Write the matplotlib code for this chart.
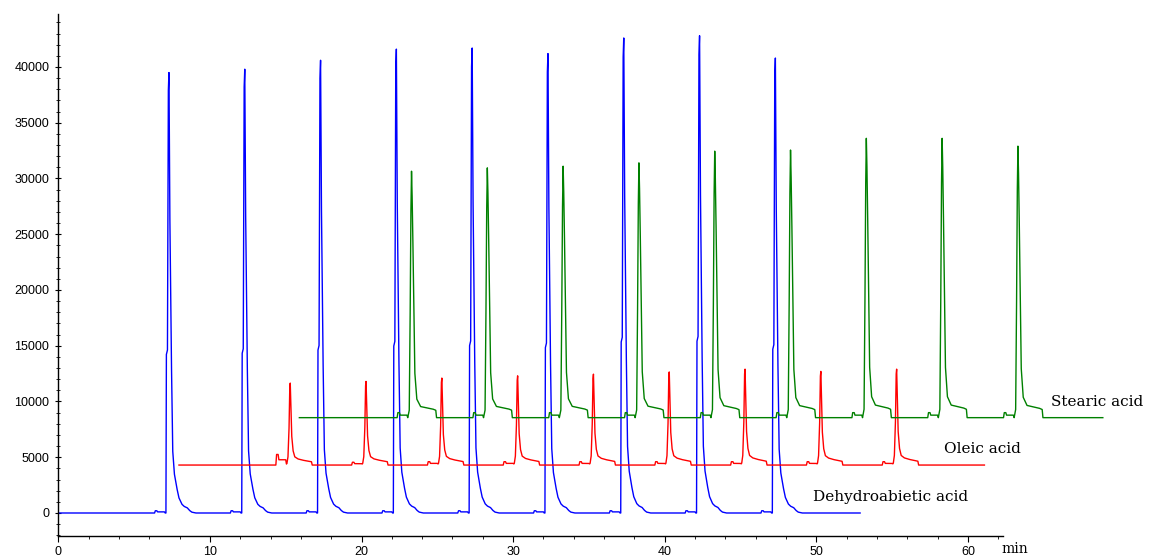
import numpy as np
import matplotlib
matplotlib.use("Agg")
import matplotlib.pyplot as plt
from matplotlib.ticker import MultipleLocator

# retention times (min), apex heights and small pre-peak bumps
blue_times = [7.3, 12.3, 17.3, 22.3, 27.3, 32.3, 37.3, 42.3, 47.3]
blue_apex = [39500, 39800, 40600, 41600, 41700, 41200, 42600, 42800, 40800]
blue_bumps = [200, 200, 200, 200, 200, 200, 200, 200, 200]
blue_base = 0
blue_span = (0.0, 52.9)

red_times = [15.3, 20.3, 25.3, 30.3, 35.3, 40.3, 45.3, 50.3, 55.3]
red_apex = [11650, 11800, 12100, 12300, 12450, 12650, 12900, 12700, 12900]
red_bumps = [950, 250, 300, 300, 300, 300, 300, 300, 300]
red_base = 4300
red_span = (7.96, 61.1)

green_times = [23.3, 28.3, 33.3, 38.3, 43.3, 48.3, 53.3, 58.3, 63.3]
green_apex = [30650, 30950, 31100, 31400, 32450, 32550, 33600, 33600, 32900]
green_bumps = [450, 450, 450, 450, 450, 450, 450, 450, 450]
green_base = 8550
green_span = (15.9, 68.9)

blue_dt = [-0.2, -0.17, -0.1, -0.04, 0.0, 0.05, 0.15, 0.25, 0.35, 0.5, 0.65, 0.85, 1.0, 1.2, 1.35, 1.5, 1.75]
blue_rel = [0, 0.36, 0.37, 0.96, 1.0, 0.70, 0.37, 0.14, 0.09, 0.06, 0.035, 0.02, 0.015, 0.012, 0.006, 0.002, 0]

red_dt = [-0.3, -0.22, -0.15, -0.08, -0.03, 0.0, 0.05, 0.1, 0.18, 0.3, 0.5, 0.8, 1.1, 1.4, 1.45]
red_rel = [0, 0.02, 0.1, 0.45, 0.95, 1.0, 0.65, 0.35, 0.18, 0.1, 0.075, 0.06, 0.05, 0.04, 0]

green_dt = [-0.25, -0.15, -0.1, -0.05, 0.0, 0.03, 0.07, 0.15, 0.22, 0.35, 0.6, 1.0, 1.4, 1.6, 1.65]
green_rel = [0, 0.03, 0.33, 0.8, 1.0, 0.93, 0.8, 0.45, 0.18, 0.075, 0.045, 0.04, 0.035, 0.03, 0]

bump_dt = [-0.95, -0.9, -0.8, -0.75, -0.3, -0.25]
bump_rel = [0, 1, 1, 0.5, 0.5, 0]


def build_trace(span, base, times, apex, bumps, dt, rel):
    t = np.arange(span[0], span[1], 0.01)
    y = np.full_like(t, float(base))
    for t0, h, b in zip(times, apex, bumps):
        y += (h - base) * np.interp(t - t0, dt, rel, left=0, right=0)
        y += b * np.interp(t - t0, bump_dt, bump_rel, left=0, right=0)
    return t, y


fig = plt.figure(figsize=(11.51, 5.58), dpi=100)
ax = fig.add_axes([58.3 / 1151, 1 - 536 / 558, 1 - 58.3 / 1151, (536 - 14) / 558])

tb, yb = build_trace(blue_span, blue_base, blue_times, blue_apex, blue_bumps, blue_dt, blue_rel)
tr, yr = build_trace(red_span, red_base, red_times, red_apex, red_bumps, red_dt, red_rel)
tg, yg = build_trace(green_span, green_base, green_times, green_apex, green_bumps, green_dt, green_rel)

ax.plot(tb, yb, color='#0000ff', lw=1.0)
ax.plot(tr, yr, color='#ff0000', lw=1.0)
ax.plot(tg, yg, color='#008000', lw=1.0)

ax.set_xlim(0, (1151 - 58.3) / 15.16)
ax.set_ylim(-2063, 44750)

for s in ['top', 'right']:
    ax.spines[s].set_visible(False)
ax.spines['bottom'].set_bounds(0, 62.3)
ax.spines['left'].set_linewidth(1.0)
ax.spines['bottom'].set_linewidth(1.0)

ax.yaxis.set_major_locator(MultipleLocator(5000))
ax.yaxis.set_minor_locator(MultipleLocator(1000))
ax.set_xticks([0, 10, 20, 30, 40, 50, 60])
ax.set_xticks([x for x in range(2, 63, 2) if x % 10], minor=True)

ax.tick_params(axis='x', which='major', direction='out', length=4, pad=3, labelsize=9)
ax.tick_params(axis='x', which='minor', direction='out', length=2.5)
ax.tick_params(axis='y', which='major', direction='inout', length=5, pad=4, labelsize=9)
ax.tick_params(axis='y', which='minor', direction='inout', length=3)
for lab in ax.get_xticklabels() + ax.get_yticklabels():
    lab.set_fontfamily('Liberation Sans')

ax.text(62.2, -0.012, 'min', transform=ax.get_xaxis_transform(), ha='left', va='top',
        fontsize=10, family='DejaVu Serif')

ax.text(65.5, 9950, 'Stearic acid', ha='left', va='center', fontsize=11, family='DejaVu Serif')
ax.text(58.4, 5740, 'Oleic acid', ha='left', va='center', fontsize=11, family='DejaVu Serif')
ax.text(49.8, 1430, 'Dehydroabietic acid', ha='left', va='center', fontsize=11, family='DejaVu Serif')

fig.savefig('out.png', dpi=100)
